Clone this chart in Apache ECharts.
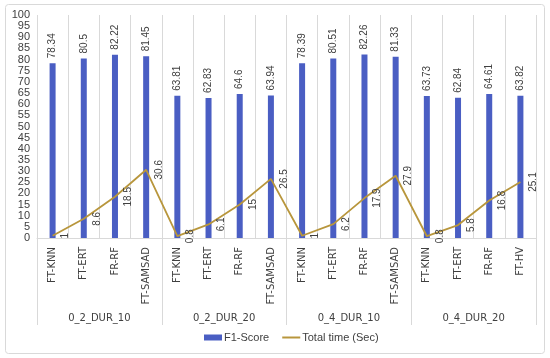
<!DOCTYPE html>
<html>
<head>
<meta charset="utf-8">
<script src="https://cdn.jsdelivr.net/npm/echarts@6/dist/echarts.min.js"></script>
<style>
html,body{margin:0;padding:0;background:#fff;}
#c{width:550px;height:358px;}
</style>
</head>
<body>
<div id="c"></div>
<script>
const categories = ['FT-KNN','FT-ERT','FR-RF','FT-SAMSAD','FT-KNN','FT-ERT','FR-RF','FT-SAMSAD','FT-KNN','FT-ERT','FR-RF','FT-SAMSAD','FT-KNN','FT-ERT','FR-RF','FT-HV'];
const groups = ['0_2_DUR_10','0_2_DUR_20','0_4_DUR_10','0_4_DUR_20'];
const f1Score = [78.34,80.5,82.22,81.45,63.81,62.83,64.6,63.94,78.39,80.51,82.26,81.33,63.73,62.84,64.61,63.82];
const totalTime = [1,8.6,18.5,30.6,0.8,6.1,15,26.5,1,6.2,17.9,27.9,0.8,5.8,16.8,25.1];
const yTicks = {min:0, max:100, interval:5};

const chart = echarts.init(document.getElementById('c'));
const txt = '#404040';
const grid = '#d9d9d9';
const lineColor = '#b8963c';
chart.setOption({
  animation:false,
  graphic:[{type:'rect', shape:{x:5.5,y:4.5,width:539,height:349,r:3}, style:{fill:'none',stroke:'#d9d9d9',lineWidth:1}, z:-10}],
  grid:{left:37,right:14,top:15,bottom:120},
  legend:{
    bottom:10, left:199, itemWidth:18, itemHeight:6, itemGap:12,
    textStyle:{fontFamily:'Liberation Sans Narrow, Liberation Sans',fontSize:11,color:txt,padding:[0,0,0,-3]},
    data:[{name:'F1-Score',icon:'rect'},{name:'Total time (Sec)',itemStyle:{opacity:0}}]
  },
  xAxis:[
    {type:'category', data:categories, position:'bottom',
     axisLine:{show:true,lineStyle:{color:grid}}, axisTick:{show:false},
     splitLine:{show:true,interval:0,lineStyle:{color:grid}},
     axisLabel:{interval:0,rotate:90,margin:9,fontFamily:'DejaVu Sans',fontSize:10,color:txt}},
    {type:'category', data:groups, position:'bottom',
     axisLine:{show:false}, axisTick:{show:true,length:87,interval:0,lineStyle:{color:grid}},
     axisLabel:{interval:0,margin:75,fontFamily:'DejaVu Sans',fontSize:10,color:txt}}
  ],
  yAxis:{type:'value', min:yTicks.min, max:yTicks.max, interval:yTicks.interval,
    axisLine:{show:false}, axisTick:{show:false}, splitLine:{show:false},
    axisLabel:{fontFamily:'Liberation Sans',fontSize:11,color:txt,margin:7}},
  series:[
    {name:'F1-Score', type:'bar', data:f1Score, barWidth:6, xAxisIndex:0,
     itemStyle:{color:'#4a5ec3'},
     label:{show:true,position:'top',distance:5,rotate:90,align:'left',verticalAlign:'middle',
       fontFamily:'Liberation Sans',fontSize:10,color:txt}},
    {name:'Total time (Sec)', type:'line', data:totalTime, xAxisIndex:0,
     symbol:'circle', symbolSize:0.1, showSymbol:true,
     lineStyle:{color:lineColor,width:1.8}, itemStyle:{color:lineColor},
     label:{show:true,position:'right',distance:13,rotate:90,align:'center',verticalAlign:'middle',
       fontFamily:'Liberation Sans',fontSize:10,color:txt}}
  ]
});
</script>
</body>
</html>
